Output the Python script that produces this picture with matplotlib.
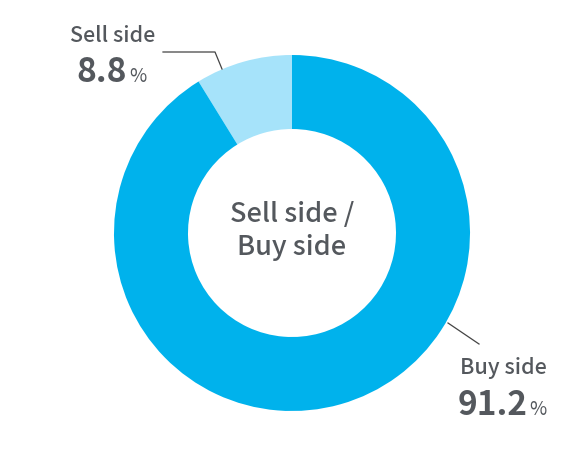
import matplotlib.pyplot as plt

labels = ['Sell side', 'Buy side']
shares = [8.8, 91.2]
colors = ['#a6e3fa', '#00b2ec']
center_title = 'Sell side /\nBuy side'

txt = '#54585d'
plt.rcParams['font.family'] = ['Noto Sans CJK JP', 'DejaVu Sans']

fig = plt.figure(figsize=(5.85, 4.6), dpi=100)
ax = fig.add_axes([0, 0, 1, 1])

# donut, sell side runs counterclockwise from 12 o'clock
ax.pie(shares, colors=colors, startangle=90, counterclock=True,
       center=(292, 226), radius=178, frame=True,
       wedgeprops=dict(width=74, linewidth=0))
ax.set_xlim(0, 585)
ax.set_ylim(0, 460)
ax.axis('off')

ax.text(292, 229, center_title, ha='center', va='center', fontsize=19.5,
        color=txt, fontweight='medium', linespacing=1.25)

# leader lines
ax.plot([163, 215, 222], [407, 407, 390], color='#444444', lw=0.9)
ax.plot([448, 479], [136, 115], color='#444444', lw=0.9)

# sell side label
ax.text(70, 418, labels[0], ha='left', va='baseline', fontsize=15.5,
        color=txt, fontweight='medium')
ax.text(76, 378, f'{shares[0]:.1f}', ha='left', va='baseline', fontsize=24,
        color=txt, fontweight='bold')
ax.text(129, 378, '%', ha='left', va='baseline', fontsize=13.5, color=txt)

# buy side label
ax.text(460, 86, labels[1], ha='left', va='baseline', fontsize=15.5,
        color=txt, fontweight='medium')
ax.text(458, 45, f'{shares[1]:.1f}', ha='left', va='baseline', fontsize=24,
        color=txt, fontweight='bold')
ax.text(529, 45, '%', ha='left', va='baseline', fontsize=13.5, color=txt)

fig.savefig('out.png', dpi=100)
